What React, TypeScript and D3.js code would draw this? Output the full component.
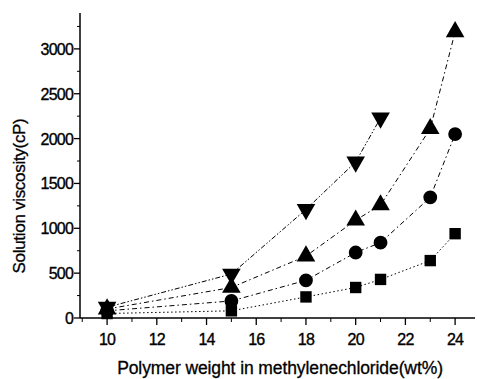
import React, { useEffect, useRef } from 'react';
import * as d3 from 'd3';

const concentrations = [10, 15, 18, 20, 21, 23, 24];
const squareSeries = [50, 80, 235, 340, 430, 640, 940];
const circleSeries = [80, 190, 420, 730, 840, 1345, 2050];
const upSeries = [100, 340, 690, 1090, 1260, 2110, 3190];
const downConcentrations = [10, 15, 18, 20, 21];
const downSeries = [120, 490, 1210, 1740, 2230];
const xTicks = [10, 12, 14, 16, 18, 20, 22, 24];
const yTicks = [0, 500, 1000, 1500, 2000, 2500, 3000];

export default function App() {
  const ref = useRef<SVGSVGElement>(null);

  useEffect(() => {
    const svg = d3.select(ref.current);
    svg.selectAll('*').remove();

    const x = d3.scaleLinear().domain([8.91, 24.8]).range([80, 475]);
    const y = d3.scaleLinear().domain([0, 3400]).range([318, 13]);
    const font = '"Liberation Sans", Arial, sans-serif';

    // axes
    svg.append('line').attr('x1', 80).attr('x2', 80).attr('y1', 13).attr('y2', 318)
      .attr('stroke', '#000').attr('stroke-width', 1.5);
    svg.append('line').attr('x1', 80).attr('x2', 475).attr('y1', 318).attr('y2', 318)
      .attr('stroke', '#000').attr('stroke-width', 1.5);

    const yMinor = d3.range(250, 3400, 500);
    svg.selectAll('.ymaj').data(yTicks).enter().append('line')
      .attr('x1', 74).attr('x2', 80).attr('y1', d => y(d)).attr('y2', d => y(d))
      .attr('stroke', '#000').attr('stroke-width', 1.3);
    svg.selectAll('.ymin').data(yMinor).enter().append('line')
      .attr('x1', 77).attr('x2', 80).attr('y1', d => y(d)).attr('y2', d => y(d))
      .attr('stroke', '#000').attr('stroke-width', 1);
    svg.selectAll('.ylab').data(yTicks).enter().append('text')
      .attr('x', 73).attr('y', d => y(d) + 6).attr('text-anchor', 'end')
      .attr('font-family', font).attr('font-size', 16).attr('letter-spacing', -0.8)
      .attr('stroke', '#000').attr('stroke-width', 0.35)
      .text(d => d);

    const xMinor = d3.range(9, 25, 2);
    svg.selectAll('.xmaj').data(xTicks).enter().append('line')
      .attr('x1', d => x(d)).attr('x2', d => x(d)).attr('y1', 318).attr('y2', 325)
      .attr('stroke', '#000').attr('stroke-width', 1.3);
    svg.selectAll('.xmin').data(xMinor).enter().append('line')
      .attr('x1', d => x(d)).attr('x2', d => x(d)).attr('y1', 318).attr('y2', 322)
      .attr('stroke', '#000').attr('stroke-width', 1);
    svg.selectAll('.xlab').data(xTicks).enter().append('text')
      .attr('x', d => x(d)).attr('y', 345).attr('text-anchor', 'middle')
      .attr('font-family', font).attr('font-size', 16).attr('letter-spacing', -0.8)
      .attr('stroke', '#000').attr('stroke-width', 0.35)
      .text(d => d);

    svg.append('text').attr('x', 280).attr('y', 374).attr('text-anchor', 'middle')
      .attr('font-family', font).attr('font-size', 17.5).attr('letter-spacing', -0.1)
      .attr('stroke', '#000').attr('stroke-width', 0.3)
      .text('Polymer weight in methylenechloride(wt%)');
    svg.append('text').attr('transform', 'translate(25,196) rotate(-90)').attr('text-anchor', 'middle')
      .attr('font-family', font).attr('font-size', 17).attr('letter-spacing', -0.3)
      .attr('stroke', '#000').attr('stroke-width', 0.3)
      .text('Solution viscosity(cP)');

    const series = [
      { xs: concentrations, ys: squareSeries, sym: d3.symbolSquare, size: 130, dash: '1.5,2.5' },
      { xs: concentrations, ys: circleSeries, sym: d3.symbolCircle, size: 150, dash: '5,3,1.5,3' },
      { xs: concentrations, ys: upSeries, sym: d3.symbolTriangle, size: 150, dash: '5,3,1.5,3' },
      { xs: downConcentrations, ys: downSeries, sym: d3.symbolTriangle, size: 150, dash: '5,2,1.5,2,1.5,2', down: true },
    ];

    const line = d3.line<[number, number]>().x(d => x(d[0])).y(d => y(d[1]));
    series.forEach(s => {
      const pts: [number, number][] = s.xs.map((c, i) => [c, s.ys[i]]);
      svg.append('path').attr('d', line(pts)).attr('fill', 'none')
        .attr('stroke', '#000').attr('stroke-width', 1).attr('stroke-dasharray', s.dash);
      const sym = d3.symbol().type(s.sym).size(s.size);
      svg.selectAll(null).data(pts).enter().append('path')
        .attr('d', sym())
        .attr('transform', d => `translate(${x(d[0])},${y(d[1])})${s.down ? ' rotate(180)' : ''}`)
        .attr('fill', '#000');
    });
  }, []);

  return (
    <svg ref={ref} width={477} height={379} style={{ position: 'absolute', left: 0, top: 0, background: '#fff' }} />
  );
}
